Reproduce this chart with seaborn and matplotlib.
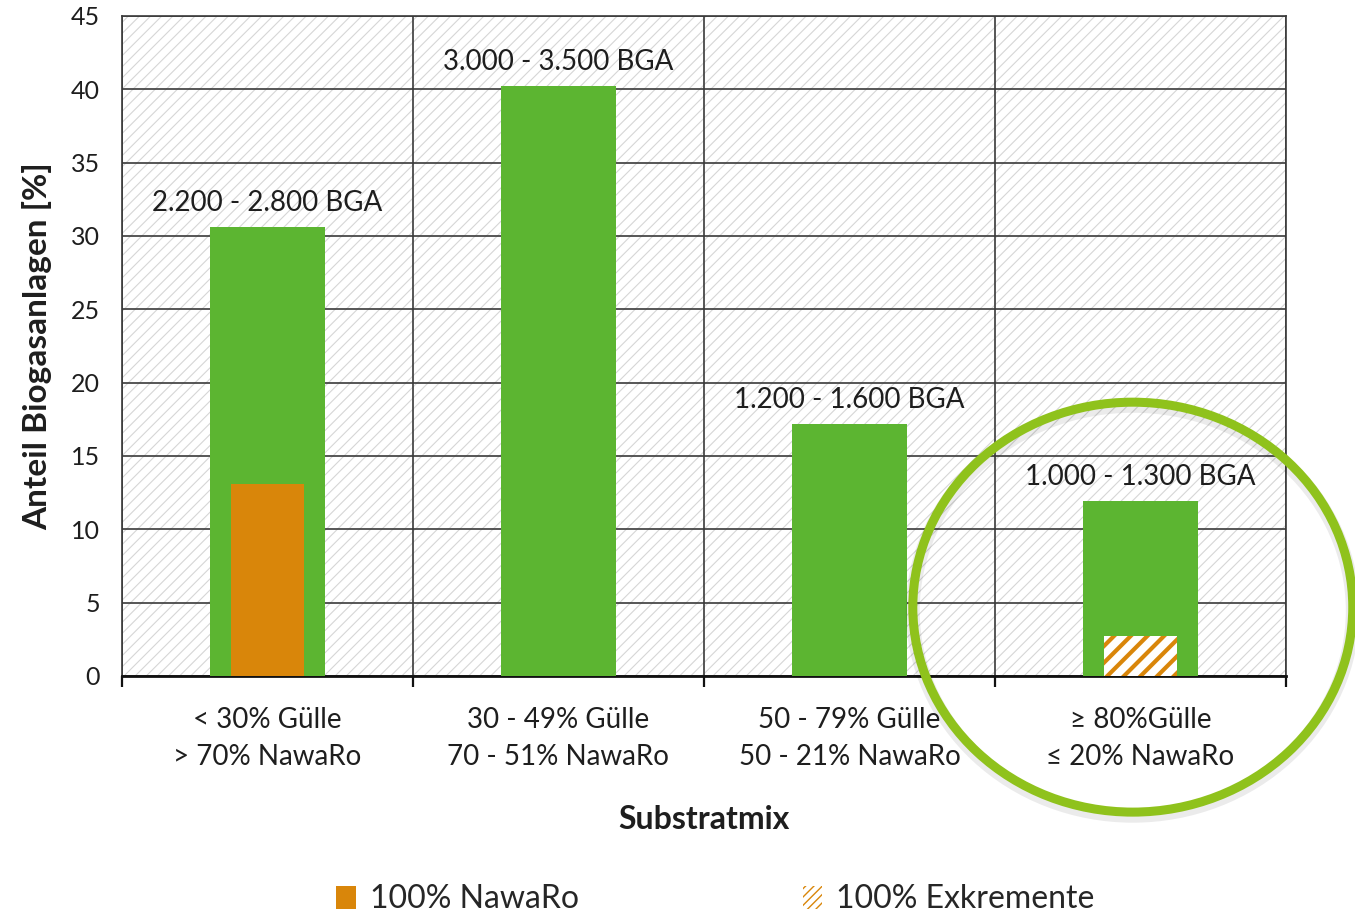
import matplotlib
matplotlib.use("Agg")
import matplotlib.pyplot as plt
from matplotlib.patches import Rectangle, Ellipse, Patch
import seaborn as sns

# Share of biogas plants by substrate mix
categories = [
    "< 30% Gülle\n> 70% NawaRo",
    "30 - 49% Gülle\n70 - 51% NawaRo",
    "50 - 79% Gülle\n50 - 21% NawaRo",
    "≥ 80%Gülle\n≤ 20% NawaRo",
]
anteil_gesamt = [30.6, 40.2, 17.2, 11.9]
anteil_nawaro_100 = [13.1, 0.0, 0.0, 0.0]
anteil_exkremente_100 = [0.0, 0.0, 0.0, 2.7]
bga_labels = ["2.200 - 2.800 BGA", "3.000 - 3.500 BGA",
              "1.200 - 1.600 BGA", "1.000 - 1.300 BGA"]
y_ticks = [0, 5, 10, 15, 20, 25, 30, 35, 40, 45]
legend_labels = ["100% NawaRo", "100% Exkremente"]

GREEN = "#5cb531"
ORANGE = "#d9860a"
RING = "#8fc21c"
TEXT = "#1e1e1e"
GRID = "#3a3a3a"

sns.set_theme(style="white")
plt.rcParams["font.family"] = ["Lato", "DejaVu Sans"]

fig = plt.figure(figsize=(13.55, 9.13), dpi=100)
ax = fig.add_axes([0.090, 0.2596, 0.859, 0.7229])

# hatched plot background
bg = Rectangle((0, 0), 1, 1, transform=ax.transAxes, facecolor="white",
               edgecolor="#d6d6d6", hatch="///", linewidth=0, zorder=0)
if hasattr(bg, "set_hatch_linewidth"):
    bg.set_hatch_linewidth(0.8)
ax.add_patch(bg)
ax.set_facecolor("white")

sns.barplot(x=categories, y=anteil_gesamt, order=categories, color=GREEN,
            width=0.395, saturation=1, linewidth=0, ax=ax, zorder=3)
sns.barplot(x=categories, y=anteil_nawaro_100, order=categories, color=ORANGE,
            width=0.25, saturation=1, linewidth=0, ax=ax, zorder=4)
sns.barplot(x=categories, y=anteil_exkremente_100, order=categories, color="white",
            width=0.25, saturation=1, linewidth=0, ax=ax, zorder=5)
for bar in ax.containers[2]:
    bar.set_edgecolor(ORANGE)
    bar.set_hatch("//")
    bar.set_linewidth(0)
    if hasattr(bar, "set_hatch_linewidth"):
        bar.set_hatch_linewidth(3.0)

# value range labels above the green bars
for i, (val, txt) in enumerate(zip(anteil_gesamt, bga_labels)):
    ax.annotate(txt, (i, val), xytext=(0, 8), textcoords="offset points",
                ha="center", va="bottom", fontsize=20, color=TEXT, zorder=6)

ax.set_xlim(-0.5, 3.5)
ax.set_ylim(0, 45)
ax.set_yticks(y_ticks)
ax.set_yticklabels([str(t) for t in y_ticks])
ax.set_xticks(range(len(categories)))
ax.set_xticklabels(categories, linespacing=1.55)
ax.set_xticks([-0.5, 0.5, 1.5, 2.5, 3.5], minor=True)

ax.tick_params(axis="y", length=0, pad=16, labelsize=18, labelcolor=TEXT)
ax.tick_params(axis="x", which="major", length=0, pad=22, labelsize=20,
               labelcolor=TEXT)
ax.tick_params(axis="x", which="minor", length=8, width=1.6, color="#111111",
               direction="out", bottom=True)

ax.yaxis.grid(True, color=GRID, linewidth=1.2, zorder=1)
ax.xaxis.grid(True, which="minor", color=GRID, linewidth=1.2, zorder=1)
ax.set_axisbelow(True)
for side in ["top", "right", "left"]:
    ax.spines[side].set_visible(True)
    ax.spines[side].set_color(GRID)
    ax.spines[side].set_linewidth(1.2)
ax.spines["bottom"].set_color("#111111")
ax.spines["bottom"].set_linewidth(2.0)

ax.set_xlabel("Substratmix", fontsize=23, fontweight="bold", color=TEXT,
              labelpad=25)
ax.set_ylabel("Anteil Biogasanlagen [%]", fontsize=24, fontweight="bold",
              color=TEXT, labelpad=13)

# legend below the plot
hatch_handle = Patch(facecolor="white", edgecolor=ORANGE, hatch="////",
                     linewidth=0)
handles = [Patch(facecolor=ORANGE, edgecolor="none"), hatch_handle]
fig.legend(handles, legend_labels, loc="lower center",
           bbox_to_anchor=(0.528, -0.033), ncol=2, frameon=False,
           fontsize=23, handlelength=0.6, handleheight=0.75,
           handletextpad=0.45, columnspacing=7.0)

# highlight ring around the last group
shadow = Ellipse((0.836, 0.331), 0.3247, 0.449, transform=fig.transFigure,
                 facecolor="none", edgecolor="#000000", alpha=0.08,
                 linewidth=10, clip_on=False, zorder=9)
fig.add_artist(shadow)
ring = Ellipse((0.836, 0.335), 0.3247, 0.449, transform=fig.transFigure,
               facecolor="none", edgecolor=RING, linewidth=6.5,
               clip_on=False, zorder=10)
fig.add_artist(ring)

fig.savefig("out.png", dpi=100)
